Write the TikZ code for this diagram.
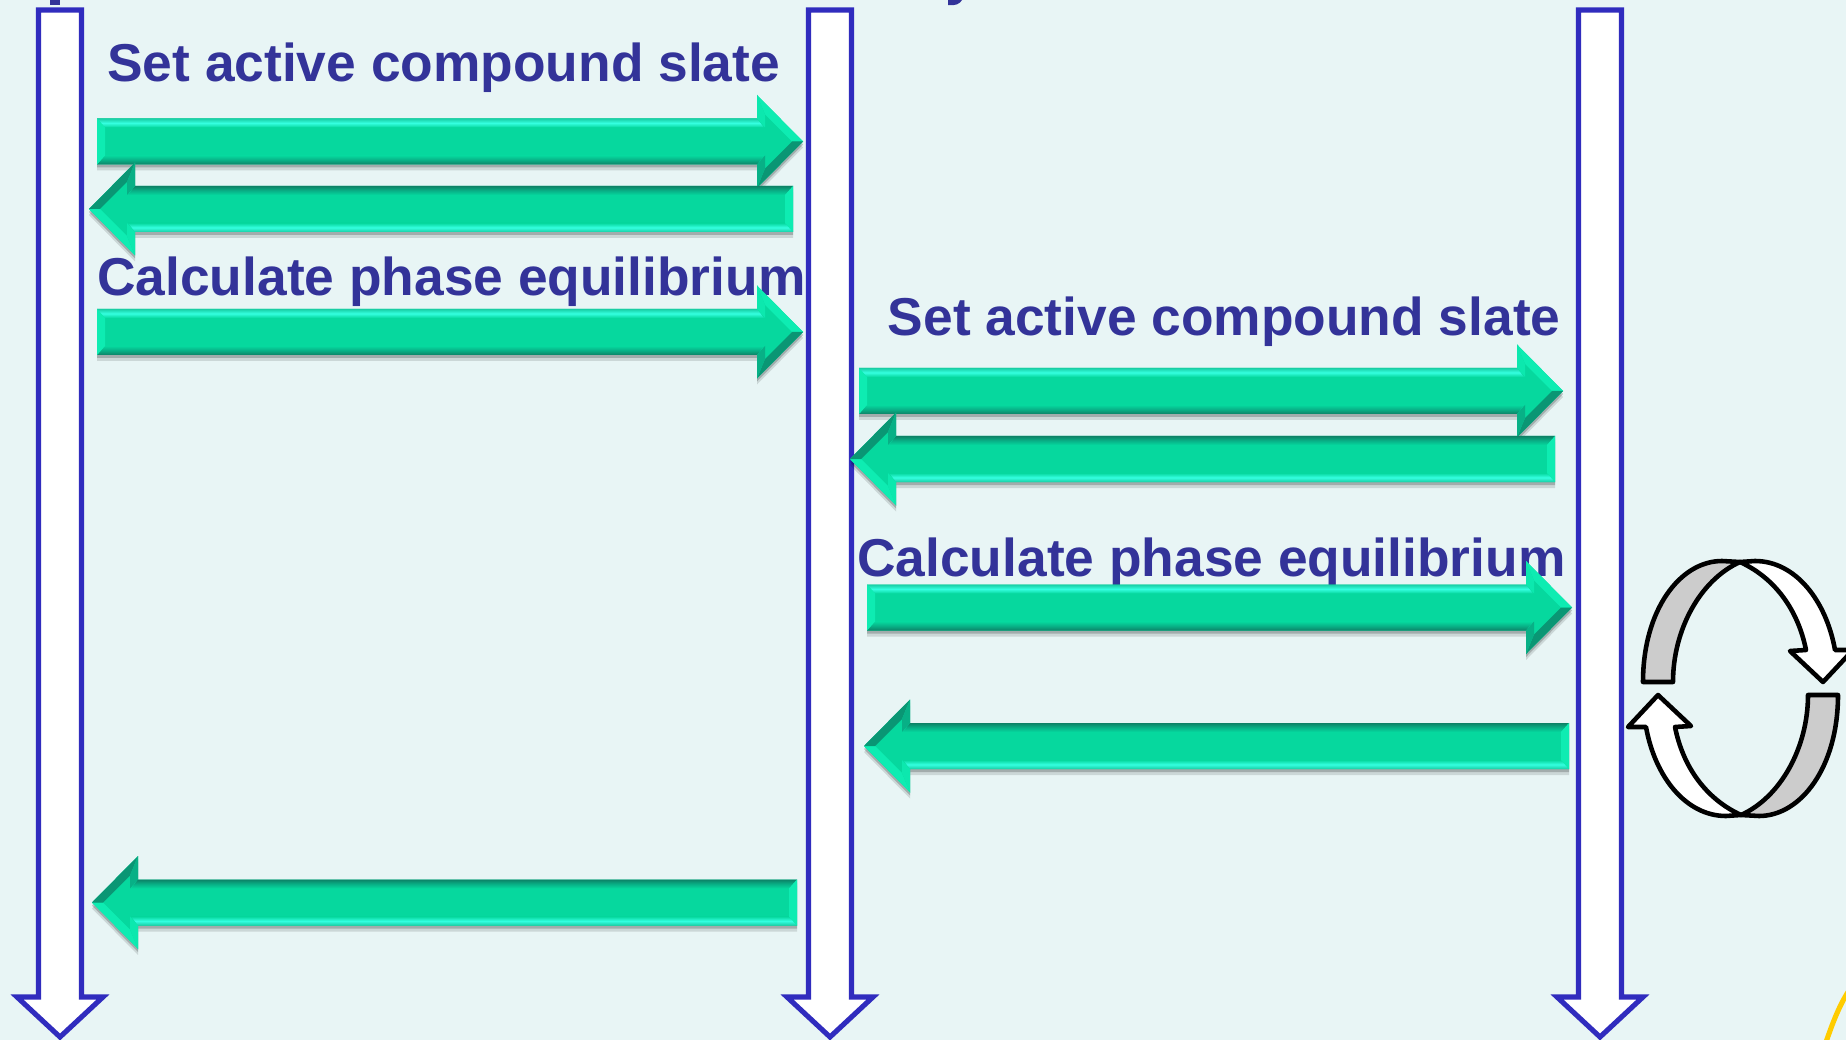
\documentclass[tikz,border=0pt]{standalone}
\usepackage{fontspec}
\setmainfont{Liberation Sans}
\usetikzlibrary{calc}
\definecolor{bgpale}{RGB}{232,245,245}
\definecolor{lineblue}{RGB}{48,44,190}
\definecolor{textblue}{RGB}{51,51,153}
\definecolor{faceg}{RGB}{6,216,158}
\definecolor{liteg}{RGB}{52,255,224}
\definecolor{edgeg}{RGB}{24,206,164}
\definecolor{darkg}{RGB}{13,130,102}
\definecolor{midg}{RGB}{8,176,134}
\definecolor{facetlite}{RGB}{14,236,178}
\definecolor{facetdark}{RGB}{10,150,116}
\definecolor{sunyellow}{RGB}{255,204,0}
\tikzset{
  steplabel/.style={font=\fontsize{30.35}{36}\selectfont\bfseries, text=textblue, inner sep=0pt},
  lifeline/.style={draw=lineblue, fill=white, line width=2.9pt, miter limit=10},
  cycleline/.style={draw=black, line width=2.6pt, line join=round}
}
% block arrow: tail x, tip x, y of axis, +1 right / -1 left
\newcommand{\arrowoutline}{(0,-23) -- (\len-46,-23) -- (\len-46,-46.5) -- (\len,0) -- (\len-46,46.5) -- (\len-46,23) -- (0,23) -- cycle}
\newcommand{\greenarrow}[4]{%
  \pgfmathsetmacro{\len}{abs(#2-#1)}
  \pgfmathsetmacro{\shang}{(1-#4)*90}
  \begin{scope}[shift={(#1,#3+6)},xscale=#4,yscale=#4]
    \fill[black,opacity=.12] \arrowoutline;
  \end{scope}
  \begin{scope}[shift={(#1,#3+3)},xscale=#4,yscale=#4]
    \fill[black,opacity=.2] \arrowoutline;
  \end{scope}
  \begin{scope}[shift={(#1,#3)},xscale=#4,yscale=#4]
    \fill[faceg] \arrowoutline;
    % bevels of the shaft
    \shade[top color=edgeg,bottom color=faceg,middle color=liteg,shading angle=\shang]
      (0,-23) -- (\len-46,-23) -- (\len-39,-14) -- (8,-14) -- cycle;
    \shade[top color=faceg,bottom color=darkg,middle color=midg,shading angle=\shang]
      (8,14) -- (\len-39,14) -- (\len-46,23) -- (0,23) -- cycle;
    \fill[facetlite] (0,-23) -- (8,-14) -- (8,14) -- (0,23) -- cycle;
    % bevels of the head
    \fill[facetlite] (\len-46,-46.5) -- (\len,0) -- (\len-11,0) -- (\len-38,-27) -- cycle;
    \fill[facetlite!80!faceg] (\len-46,-46.5) -- (\len-38,-27) -- (\len-38,-14) -- (\len-46,-23) -- cycle;
    \fill[facetdark] (\len-46,46.5) -- (\len,0) -- (\len-11,0) -- (\len-38,27) -- cycle;
    \fill[midg] (\len-46,46.5) -- (\len-38,27) -- (\len-38,14) -- (\len-46,23) -- cycle;
  \end{scope}
}
\begin{document}
\begin{tikzpicture}[x=0.02cm,y=-0.02cm]
  \useasboundingbox (0,0) rectangle (1846,1040);
  \clip (0,0) rectangle (1846,1040);
  \fill[bgpale] (0,0) rectangle (1846,1040);
  % leftovers of the cut off titles and the yellow arc
  \fill[textblue] (50,0) rectangle (60,5);
  \fill[textblue] (948,0) -- (962,0) .. controls (960,4) and (955,6) .. (948,5) -- cycle;
  \draw[sunyellow, line width=2.9pt] (1826,1042) .. controls (1832,1025) and (1838,1008) .. (1848,992);
  % the three lifelines
  \foreach \lx in {60,830,1600}
    \draw[lifeline] (\lx-21.5,10) -- (\lx+21.5,10) -- (\lx+21.5,997) -- (\lx+43,997)
      -- (\lx,1037) -- (\lx-43,997) -- (\lx-21.5,997) -- cycle;
  \node[steplabel, anchor=base west] (setleft) at (107,82) {Set active compound slate};
  \node[steplabel, anchor=base west] (calcleft) at (97,296) {Calculate phase equilibrium};
  \node[steplabel, anchor=base west] (setright) at (887.5,336) {Set active compound slate};
  \node[steplabel, anchor=base west] (calcright) at (857,576) {Calculate phase equilibrium};
  % messages
  \foreach \tailx/\tipx/\ypos/\dir in {97/803/141.5/1, 793/89/209/-1, 97/803/332/1,
      859/1563/391/1, 1555/850/459/-1, 867/1572/607.5/1, 1569/864/746/-1, 797/92/902.5/-1}
  {
    \greenarrow{\tailx}{\tipx}{\ypos}{\dir}
  }
  % cycle symbol
  \foreach \rot in {0,180}
  {
    \begin{scope}[rotate around={\rot:(1740.5,688.5)}]
      \draw[cycleline, fill=black!20] (1643,682) .. controls (1643,610) and (1680,561) .. (1722,561)
        -- (1740,562) .. controls (1700,580) and (1673,630) .. (1673,682) -- cycle;
      \draw[cycleline, fill=white] (1740,562) -- (1755,561) .. controls (1795,561) and (1826,600) .. (1835,650)
        -- (1853,650) -- (1823,682) -- (1790,651) -- (1806,650)
        .. controls (1798,610) and (1775,578) .. (1740,562) -- cycle;
    \end{scope}
  }
\end{tikzpicture}
\end{document}
